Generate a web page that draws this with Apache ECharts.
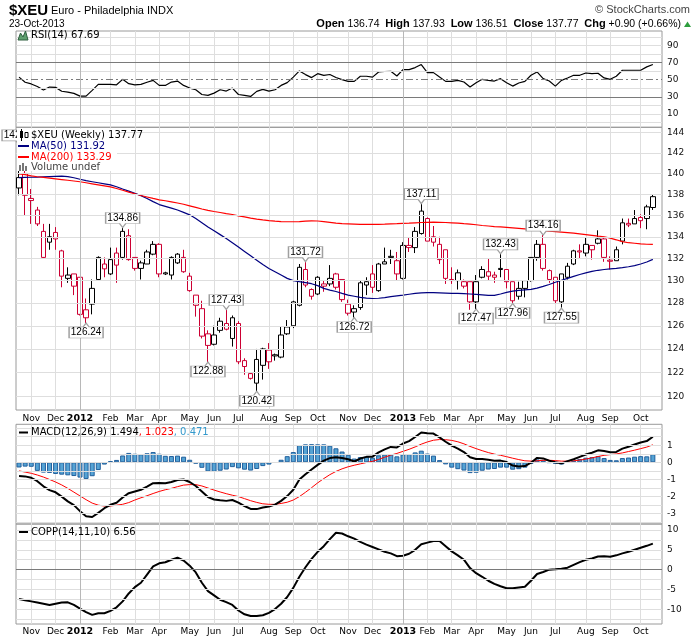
<!DOCTYPE html>
<html>
<head>
<meta charset="utf-8">
<title>$XEU Euro - Philadelphia INDX</title>
<script src="https://cdn.jsdelivr.net/npm/echarts@6/dist/echarts.min.js"></script>
<style>
  html, body { margin: 0; padding: 0; background: #fff; }
  #chart { width: 700px; height: 639px; }
</style>
</head>
<body>
<div id="chart"></div>
<script>
// weekly bars, Oct 24 2011 .. Oct 21 2013 (+1 empty slot at the right edge)
var weeks = [];
var start = Date.UTC(2011, 9, 24);
for (var k = 0; k < 106; k++) {
    weeks.push(new Date(start + k * 7 * 864e5).toISOString().slice(0, 10));
}
var months = ['Jan', 'Feb', 'Mar', 'Apr', 'May', 'Jun', 'Jul', 'Aug', 'Sep', 'Oct', 'Nov', 'Dec'];

// [open, close, low, high]
var candles = [
    [138.6, 139.6, 137.9, 142.8], [140.0, 137.9, 136.0, 140.6], [137.6, 137.4, 135.2, 138.5], [136.5, 135.2, 135.0, 136.8],
    [134.5, 132.1, 132.0, 135.2], [133.5, 134.0, 132.8, 135.2], [134.4, 133.8, 132.8, 134.9], [132.7, 130.4, 129.4, 132.8],
    [130.2, 130.5, 129.8, 131.2], [130.6, 129.5, 128.7, 130.6], [130.3, 127.0, 126.9, 130.3], [127.4, 126.7, 126.24, 128.4],
    [127.9, 129.3, 127.0, 130.1], [130.1, 132.1, 130.1, 132.2], [131.06, 131.5, 130.3, 132.1], [130.6, 131.9, 130.5, 133.0],
    [132.5, 131.4, 129.8, 133.0], [132.1, 134.5, 131.9, 134.86], [134.1, 131.9, 131.8, 134.7], [132.1, 131.1, 130.9, 132.1],
    [131.1, 131.6, 130.1, 131.8], [131.5, 132.6, 131.5, 132.8], [132.4, 133.3, 132.3, 133.6], [133.3, 130.6, 130.3, 133.4],
    [130.6, 130.7, 130.5, 130.8], [130.5, 132.1, 130.1, 132.2], [131.6, 132.4, 131.5, 132.5], [132.1, 130.8, 130.7, 132.8],
    [130.4, 129.1, 129.0, 130.7], [128.7, 127.8, 126.8, 128.7], [127.5, 125.1, 124.9, 128.2], [125.3, 124.3, 122.88, 125.6],
    [124.4, 125.2, 124.3, 126.0], [125.6, 126.4, 125.4, 126.7], [126.2, 125.7, 125.6, 127.43], [124.9, 126.7, 124.2, 126.9],
    [126.2, 122.9, 122.7, 126.4], [123.0, 122.5, 121.8, 123.2], [121.9, 121.5, 121.4, 122.0], [121.1, 123.1, 120.42, 124.0],
    [122.6, 124.0, 121.4, 124.1], [123.9, 122.9, 122.3, 124.5], [123.5, 123.4, 123.0, 123.6], [123.3, 125.2, 123.2, 125.9],
    [125.3, 125.9, 125.2, 126.5], [126.0, 128.1, 125.8, 128.2], [127.8, 131.2, 127.7, 131.5], [131.0, 129.6, 129.4, 131.72],
    [129.2, 128.6, 128.3, 129.3], [128.8, 130.3, 128.7, 130.4], [129.7, 129.5, 129.0, 130.0], [129.7, 130.2, 129.5, 131.4],
    [130.6, 129.4, 129.2, 130.7], [130.1, 128.3, 128.1, 130.1], [127.9, 127.1, 126.9, 128.3], [127.2, 127.5, 126.72, 127.8],
    [127.6, 129.8, 127.4, 130.0], [129.6, 129.9, 128.7, 130.3], [130.6, 129.4, 128.9, 131.4], [129.1, 131.5, 129.0, 131.6],
    [131.5, 131.7, 131.5, 133.0], [132.1, 132.2, 131.5, 132.8], [131.8, 130.6, 130.0, 132.6], [130.2, 133.2, 130.1, 133.5],
    [133.2, 133.0, 132.6, 133.9], [133.0, 134.5, 132.5, 134.9], [134.3, 136.4, 134.2, 137.11], [135.7, 133.6, 133.6, 135.8],
    [134.0, 133.5, 133.1, 135.0], [133.3, 131.9, 131.5, 134.0], [132.8, 130.2, 129.7, 132.8], [130.1, 130.0, 129.7, 131.2],
    [130.0, 130.7, 129.2, 131.0], [129.5, 129.9, 129.3, 130.1], [129.9, 128.1, 127.4, 129.9], [128.1, 129.9, 127.47, 130.5],
    [130.3, 131.0, 130.2, 131.3], [130.8, 130.4, 130.0, 132.0], [130.5, 130.3, 129.8, 130.8], [131.0, 131.1, 130.3, 132.43],
    [131.0, 129.9, 129.3, 131.0], [129.9, 128.2, 127.96, 129.9], [128.6, 129.3, 128.3, 129.9], [129.3, 130.0, 128.5, 130.0],
    [130.0, 132.1, 129.9, 132.1], [132.1, 133.3, 131.8, 133.7], [133.3, 131.1, 130.9, 134.16], [130.9, 130.1, 129.8, 131.0],
    [130.3, 128.2, 128.0, 130.3], [128.1, 130.6, 127.55, 130.6], [130.3, 131.3, 130.1, 131.6], [131.5, 132.7, 131.4, 132.8],
    [132.7, 132.6, 132.0, 133.3], [132.5, 133.3, 132.2, 133.9], [132.8, 133.2, 131.9, 133.2], [133.4, 133.8, 133.3, 134.6],
    [133.8, 132.1, 131.7, 134.0], [131.85, 131.75, 131.0, 132.2], [131.8, 132.8, 131.8, 133.1], [133.6, 135.3, 133.3, 135.7],
    [135.1, 135.25, 134.9, 135.7], [135.2, 135.7, 135.2, 136.5], [135.8, 135.5, 134.8, 136.1], [135.7, 136.8, 134.7, 137.0],
    [136.74, 137.77, 136.51, 137.93]
];

var ma50 = [
    139.6, 139.62, 139.63, 139.65, 139.68, 139.7, 139.72, 139.74, 139.7, 139.58,
    139.44, 139.3, 139.2, 139.1, 139.0, 138.9, 138.72, 138.5, 138.3, 138.08,
    137.87, 137.6, 137.3, 137.02, 136.85, 136.68, 136.5, 136.28, 136.05, 135.7,
    135.3, 134.9, 134.55, 134.2, 133.85, 133.45, 133.05, 132.65, 132.25, 131.85,
    131.45, 131.1, 130.8, 130.5, 130.2, 130.0, 129.9, 129.82, 129.72, 129.55,
    129.3, 129.15, 129.02, 128.85, 128.7, 128.6, 128.5, 128.43, 128.4, 128.42,
    128.48, 128.56, 128.63, 128.7, 128.78, 128.85, 128.9, 128.92, 128.92, 128.9,
    128.88, 128.86, 128.85, 128.83, 128.8, 128.77, 128.73, 128.68, 128.68, 128.8,
    128.95, 129.05, 129.12, 129.17, 129.22, 129.33, 129.48, 129.65, 129.85, 130.03,
    130.2, 130.38, 130.55, 130.7, 130.83, 130.93, 131.0, 131.06, 131.1, 131.17,
    131.25, 131.36, 131.5, 131.68, 131.92
];
var ma200 = [
    139.95, 139.88, 139.77, 139.68, 139.62, 139.55, 139.48, 139.41, 139.34, 139.27,
    139.2, 139.1, 139.0, 138.9, 138.8, 138.7, 138.55, 138.38, 138.2, 138.05,
    137.88, 137.74, 137.6, 137.47, 137.38, 137.28, 137.17, 137.05, 136.9, 136.75,
    136.6, 136.47, 136.36, 136.27, 136.17, 136.08, 135.95, 135.85, 135.74, 135.65,
    135.57, 135.5, 135.45, 135.42, 135.4, 135.4, 135.42, 135.45, 135.48, 135.47,
    135.42, 135.35, 135.27, 135.22, 135.2, 135.18, 135.16, 135.15, 135.15, 135.15,
    135.17, 135.2, 135.22, 135.25, 135.27, 135.3, 135.33, 135.35, 135.36, 135.35,
    135.33, 135.3, 135.27, 135.22, 135.18, 135.12, 135.05, 135.0, 134.95, 134.92,
    134.88, 134.83, 134.78, 134.73, 134.68, 134.62, 134.58, 134.53, 134.48, 134.43,
    134.38, 134.33, 134.27, 134.2, 134.13, 134.06, 134.0, 133.88, 133.72, 133.55,
    133.45, 133.4, 133.35, 133.31, 133.29
];

var rsi = [
    53, 47, 45, 42, 38, 41.4, 41, 36.5, 35.5, 34,
    30.8, 30.8, 37.5, 44.5, 44.5, 44.5, 44, 50.4, 45.3, 44,
    44.5, 47, 49.2, 43.3, 43.3, 47.2, 48.4, 43.3, 40.2, 38.2,
    32.7, 31.6, 34.3, 38.2, 36.7, 40.2, 32.7, 31.6, 30.4, 36.3,
    38.6, 36.7, 38.2, 43.3, 46.5, 53, 60.2, 55.9, 52.4, 57,
    55, 56, 52.5, 50, 48, 48, 54, 54, 53, 59,
    59.5, 59.8, 54.3, 61.8, 61.8, 64.1, 67.6, 58.2, 58.2, 53,
    48, 48, 49.2, 47.3, 41.4, 46.5, 50.4, 49.2, 48.4, 51.2,
    46.5, 42.5, 46.1, 48, 55.1, 59, 51.2, 48.4, 42.5, 49.2,
    52, 55.1, 55.1, 57.8, 57, 57.5, 52, 50.4, 54, 61,
    61, 61, 61, 64.9, 67.69
];

var macd = [
    -0.8, -0.82, -0.9, -1.1, -1.4, -1.62, -1.75, -2.0, -2.28, -2.5,
    -2.85, -3.15, -3.19, -2.95, -2.68, -2.48, -2.36, -2.05, -1.8, -1.7,
    -1.6, -1.42, -1.22, -1.2, -1.22, -1.15, -1.03, -1.0, -1.15, -1.38,
    -1.7, -2.03, -2.17, -2.22, -2.25, -2.2, -2.35, -2.55, -2.72, -2.73,
    -2.64, -2.58, -2.47, -2.25, -1.97, -1.6, -1.0, -0.7, -0.42, -0.15,
    0.1, 0.25, 0.29, 0.25, 0.18, 0.05, 0.22, 0.32, 0.33, 0.58,
    0.76, 0.9, 0.87, 1.1, 1.24, 1.48, 1.74, 1.7, 1.68, 1.46,
    1.2, 0.97, 0.8, 0.6, 0.3, 0.19, 0.19, 0.15, 0.09, 0.1,
    0.02, -0.19, -0.24, -0.22, -0.02, 0.26, 0.23, 0.09, 0.01, -0.06,
    0.07, 0.18, 0.32, 0.46, 0.56, 0.7, 0.66, 0.59, 0.61, 0.8,
    0.91, 1.04, 1.16, 1.24, 1.494
];
var signal = [
    -0.5, -0.57, -0.64, -0.74, -0.86, -1.0, -1.15, -1.32, -1.52, -1.74,
    -1.96, -2.18, -2.38, -2.5, -2.55, -2.55, -2.5, -2.45, -2.35, -2.2,
    -2.07, -1.95, -1.82, -1.7, -1.6, -1.52, -1.42, -1.33, -1.3, -1.3,
    -1.38, -1.5, -1.62, -1.73, -1.83, -1.92, -2.0, -2.12, -2.24, -2.34,
    -2.42, -2.45, -2.45, -2.4, -2.33, -2.2, -2.0, -1.75, -1.48, -1.2,
    -0.95, -0.72, -0.53, -0.38, -0.26, -0.17, -0.09, -0.01, 0.06, 0.17,
    0.3, 0.42, 0.52, 0.64, 0.76, 0.9, 1.06, 1.19, 1.29, 1.33,
    1.32, 1.28, 1.2, 1.08, 0.93, 0.8, 0.68, 0.57, 0.48, 0.41,
    0.33, 0.24, 0.16, 0.09, 0.07, 0.09, 0.12, 0.12, 0.1, 0.07,
    0.07, 0.09, 0.13, 0.19, 0.26, 0.34, 0.41, 0.45, 0.49, 0.55,
    0.63, 0.71, 0.8, 0.89, 1.023
];
var hist = [
    -0.3, -0.25, -0.26, -0.5, -0.6, -0.62, -0.68, -0.72, -0.76, -0.8,
    -0.89, -0.97, -0.81, -0.45, -0.13, 0.07, 0.14, 0.4, 0.55, 0.5,
    0.47, 0.53, 0.6, 0.5, 0.38, 0.37, 0.39, 0.33, 0.15, -0.08,
    -0.32, -0.53, -0.55, -0.49, -0.42, -0.28, -0.35, -0.43, -0.48, -0.39,
    -0.22, -0.13, -0.02, 0.15, 0.36, 0.6, 1.0, 1.05, 1.06, 1.05,
    1.05, 0.97, 0.82, 0.63, 0.44, 0.22, 0.31, 0.33, 0.27, 0.41,
    0.46, 0.48, 0.35, 0.46, 0.48, 0.58, 0.68, 0.51, 0.39, 0.13,
    -0.12, -0.31, -0.4, -0.48, -0.63, -0.61, -0.49, -0.42, -0.39, -0.31,
    -0.31, -0.43, -0.4, -0.31, -0.09, 0.17, 0.11, -0.03, -0.09, -0.13,
    0, 0.09, 0.19, 0.27, 0.3, 0.36, 0.25, 0.14, 0.12, 0.25,
    0.28, 0.33, 0.36, 0.35, 0.471
];

var copp = [
    -7.4, -7.7, -8.0, -8.3, -8.6, -8.9, -8.6, -8.3, -8.25, -8.9,
    -9.8, -10.7, -11.4, -11.0, -11.0, -10.4, -9.5, -8.0, -6.0, -4.4,
    -3.3, -1.25, 0.8, 1.6, 1.85, 2.5, 3.0, 2.3, 1.0, -0.7,
    -3.3, -5.4, -6.5, -7.6, -8.2, -8.9, -10.3, -11.25, -11.7, -11.7,
    -11.5, -10.9, -9.95, -8.6, -6.9, -4.6, -1.8, 0.6, 2.7, 4.5,
    5.9, 7.7, 9.3, 9.1, 8.4, 7.8, 7.0, 6.3, 5.7, 5.1,
    4.5, 4.1, 3.4, 3.5, 4.0, 5.0, 6.4, 6.8, 7.2, 7.2,
    5.9, 4.6, 3.6, 2.5, 0.4, -0.9, -1.8, -2.8, -3.6, -4.2,
    -4.7, -4.7, -4.5, -4.3, -2.8, -1.1, -0.6, 0, 0.1, 0.25,
    0.5, 1.2, 1.9, 2.5, 2.8, 3.3, 3.4, 3.25, 3.6, 4.1,
    4.5, 5.0, 5.5, 6.0, 6.56
];

// [week index, price, 'high' | 'low']
var priceNotes = [
    [0, 142.8, 'high'], [17, 134.86, 'high'], [34, 127.43, 'high'], [47, 131.72, 'high'],
    [66, 137.11, 'high'], [79, 132.43, 'high'], [86, 134.16, 'high'],
    [11, 126.24, 'low'], [31, 122.88, 'low'], [39, 120.42, 'low'], [55, 126.72, 'low'],
    [75, 127.47, 'low'], [81, 127.96, 'low'], [89, 127.55, 'low']
];

// axis ticks per panel
var rsiLines = [0, 10, 20, 30, 40, 50, 60, 70, 80, 90, 100];
var rsiTicks = [10, 30, 50, 70, 90];
var priceTicks = [120, 122, 124, 126, 128, 130, 132, 134, 136, 138, 140, 142, 144];
var macdLines = [-3.5, -3, -2.5, -2, -1.5, -1, -0.5, 0, 0.5, 1, 1.5, 2];
var macdTicks = [-3, -2, -1, 0, 1];
var coppLines = [-12.5, -10, -7.5, -5, -2.5, 0, 2.5, 5, 7.5, 10];
var coppTicks = [-10, -5, 0, 5, 10];
var yearStarts = ['2012-01-02', '2013-01-07'];

var RED = '#cc0033';
var FONT = 'DejaVu Sans';

function monthStart(idx) {
    var s = weeks[idx];
    return !!s && Number(s.slice(8, 10)) <= 7;
}

function monthLabel(val) {
    var m = Number(val.slice(5, 7));
    return m === 1 ? '{y|' + val.slice(0, 4) + '}' : months[m - 1];
}

function hLines(vals, labeled, dark, dash) {
    var out = vals.map(function (v) {
        var isDark = dark.indexOf(v) >= 0;
        var isDash = dash.indexOf(v) >= 0;
        return {
            yAxis: v,
            lineStyle: {
                color: isDark || isDash ? '#7a7a7a' : '#dedede',
                width: 1,
                type: isDash ? [7, 3, 2, 3] : 'solid'
            },
            label: {
                show: labeled.indexOf(v) >= 0,
                formatter: String(v),
                position: 'end',
                distance: 5,
                color: '#111',
                fontSize: 9,
                fontFamily: FONT
            }
        };
    });
    yearStarts.forEach(function (d) {
        out.push({ xAxis: d, lineStyle: { color: '#b8b8b8', width: 1, type: 'solid' }, label: { show: false } });
    });
    return out;
}

function gridSeries(gi, lines) {
    return {
        type: 'line', xAxisIndex: gi, yAxisIndex: gi, data: [], z: 0, silent: true,
        markLine: { silent: true, symbol: 'none', animation: false, data: lines }
    };
}

function makeX(gi, showLabel, margin) {
    return {
        type: 'category', gridIndex: gi, data: weeks, boundaryGap: true,
        axisLine: { show: false }, axisTick: { show: false },
        splitLine: { show: true, interval: monthStart, alignWithLabel: true, lineStyle: { color: '#dedede', width: 1 } },
        axisLabel: {
            show: showLabel, interval: monthStart, margin: margin, formatter: monthLabel,
            color: '#000', fontSize: 9, fontFamily: FONT,
            rich: { y: { fontWeight: 'bold', fontSize: 9.5, fontFamily: FONT, color: '#000' } }
        }
    };
}

function makeY(gi, type, min, max) {
    return { type: type, gridIndex: gi, min: min, max: max, show: false, splitLine: { show: false } };
}

// candle colours: hollow when close > open, red when close < previous close
var candleItems = candles.map(function (c, i) {
    var prev = i > 0 ? candles[i - 1][1] : c[0];
    var col = c[1] >= prev ? '#000' : RED;
    return {
        value: c,
        itemStyle: { color: '#fff', color0: col, borderColor: col, borderColor0: col, borderColorDoji: col }
    };
});

var boxUp = 'path://M0,0L34,0L34,11L20,11L17,15L14,11L0,11Z';
var boxDown = 'path://M0,4L14,4L17,0L20,4L34,4L34,15L0,15Z';
var noteItems = priceNotes.map(function (n) {
    var up = n[2] === 'high';
    return {
        coord: [n[0], n[1]],
        symbol: up ? boxUp : boxDown,
        symbolSize: [34, 15],
        symbolOffset: [0, up ? -7.5 : 7.5],
        label: { formatter: n[1].toFixed(2), offset: [0, up ? -2 : 2] }
    };
});

function txt(x, y, text, opt) {
    opt = opt || {};
    return {
        type: 'text', x: x, y: y, z: 60,
        style: {
            text: text,
            fill: opt.fill || '#000',
            font: opt.font || ('10px "' + FONT + '"'),
            textAlign: opt.align || 'left',
            textVerticalAlign: 'middle',
            rich: opt.rich
        }
    };
}

function dash(x1, x2, y, color) {
    return { type: 'line', z: 60, shape: { x1: x1, y1: y, x2: x2, y2: y }, style: { stroke: color, lineWidth: 2 } };
}

var HDR = '"Liberation Sans"';

var graphics = [
    txt(9, 11, '$XEU', { font: 'bold 15px ' + HDR }),
    txt(51, 11, 'Euro - Philadelphia INDX', { font: '11px ' + HDR }),
    txt(9, 24, '23-Oct-2013', { font: '10px ' + HDR }),
    txt(690, 10, '\u00a9 StockCharts.com', { font: '11px ' + HDR, fill: '#444', align: 'right' }),
    txt(681, 24, '{b|Open} 136.74  {b|High} 137.93  {b|Low} 136.51  {b|Close} 137.77  {b|Chg} +0.90 (+0.66%)', {
        font: '10.5px ' + HDR, align: 'right',
        rich: { b: { fontWeight: 'bold', fontSize: 11, fontFamily: 'Liberation Sans', fill: '#000' } }
    }),
    { type: 'polygon', z: 60, shape: { points: [[684, 27], [691, 27], [687.5, 21.5]] }, style: { fill: '#2e9e3e' } },

    // RSI legend
    { type: 'polygon', z: 60, shape: { points: [[18, 40], [20.5, 33], [23, 37], [25.5, 31], [28, 40]] },
        style: { fill: '#5f9f6f', stroke: '#2f5f3f', lineWidth: 1 } },
    txt(31, 35, 'RSI(14) 67.69'),

    // price legend on white
    { type: 'rect', z: 55, shape: { x: 17, y: 128.5, width: 100, height: 42.5 }, style: { fill: '#fff' } },
    { type: 'rect', z: 60, shape: { x: 20, y: 131, width: 3, height: 7 }, style: { fill: '#000' } },
    { type: 'line', z: 60, shape: { x1: 21.5, y1: 129, x2: 21.5, y2: 141 }, style: { stroke: '#000', lineWidth: 1 } },
    { type: 'rect', z: 60, shape: { x: 25, y: 132.5, width: 3, height: 5 }, style: { fill: '#fff', stroke: '#000', lineWidth: 1 } },
    txt(31, 135, '$XEU (Weekly) 137.77'),
    dash(18, 29, 146, '#000080'),
    txt(31, 146, 'MA(50) 131.92', { fill: '#000080' }),
    dash(18, 29, 157, '#ff0000'),
    txt(31, 157, 'MA(200) 133.29', { fill: '#ff0000' }),
    { type: 'rect', z: 60, shape: { x: 19, y: 165, width: 2, height: 6 }, style: { fill: '#777' } },
    { type: 'rect', z: 60, shape: { x: 22, y: 163, width: 2, height: 8 }, style: { fill: '#777' } },
    { type: 'rect', z: 60, shape: { x: 25, y: 166, width: 2, height: 5 }, style: { fill: '#777' } },
    txt(31, 167.5, 'Volume undef', { fill: '#444' }),

    // MACD legend
    dash(19, 28, 432.5, '#000'),
    txt(31, 432.5, 'MACD(12,26,9) 1.494{r|, 1.023}{b|, 0.471}', {
        rich: {
            r: { fill: '#ff0000', fontSize: 10, fontFamily: FONT },
            b: { fill: '#3399cc', fontSize: 10, fontFamily: FONT }
        }
    }),

    // COPP legend
    dash(19, 28, 532, '#000'),
    txt(31, 532, 'COPP(14,11,10) 6.56')
];

var chart = echarts.init(document.getElementById('chart'), null, { renderer: 'canvas' });

chart.setOption({
    animation: false,
    backgroundColor: '#fff',
    grid: [
        { left: 16, right: 38, top: 31, height: 96.3, show: true, borderColor: '#9a9a9a', borderWidth: 1 },
        { left: 16, right: 38, top: 127.3, height: 282.7, show: true, borderColor: '#9a9a9a', borderWidth: 1 },
        { left: 16, right: 38, top: 424.3, height: 99.7, show: true, borderColor: '#9a9a9a', borderWidth: 1 },
        { left: 16, right: 38, top: 524, height: 100, show: true, borderColor: '#9a9a9a', borderWidth: 1 }
    ],
    xAxis: [makeX(0, false, 0), makeX(1, true, 4), makeX(2, false, 0), makeX(3, true, 3)],
    yAxis: [
        makeY(0, 'value', -5.6, 106.8),
        makeY(1, 'log', 118.87, 144.54),
        makeY(2, 'value', -3.6, 2.22),
        makeY(3, 'value', -13.7, 11.5)
    ],
    graphic: graphics,
    series: [
        gridSeries(0, hLines(rsiLines, rsiTicks, [30, 70], [50])),
        {
            name: 'RSI', type: 'line', xAxisIndex: 0, yAxisIndex: 0, data: rsi, z: 3,
            symbol: 'none', lineStyle: { color: '#000', width: 1.2 }
        },

        gridSeries(1, hLines(priceTicks, priceTicks, [], [])),
        {
            name: '$XEU', type: 'candlestick', xAxisIndex: 1, yAxisIndex: 1, data: candleItems, z: 3,
            barWidth: 5
        },
        {
            name: 'MA(50)', type: 'line', xAxisIndex: 1, yAxisIndex: 1, data: ma50, z: 4,
            symbol: 'none', lineStyle: { color: '#000080', width: 1.2 }
        },
        {
            name: 'MA(200)', type: 'line', xAxisIndex: 1, yAxisIndex: 1, data: ma200, z: 4,
            symbol: 'none', lineStyle: { color: '#ff0000', width: 1.2 }
        },
        {
            name: 'notes', type: 'line', xAxisIndex: 1, yAxisIndex: 1, data: [], z: 8,
            markPoint: {
                animation: false,
                itemStyle: { color: '#fff', borderColor: '#a0a0a0', borderWidth: 1 },
                label: { show: true, position: 'inside', color: '#000', fontSize: 10, fontFamily: 'Liberation Sans' },
                data: noteItems
            }
        },

        gridSeries(2, hLines(macdLines, macdTicks, [], [])),
        {
            name: 'Histogram', type: 'bar', xAxisIndex: 2, yAxisIndex: 2, data: hist, z: 2,
            barWidth: 5,
            itemStyle: { color: '#55a3d4', borderColor: '#215f9c', borderWidth: 1 }
        },
        {
            name: 'Signal', type: 'line', xAxisIndex: 2, yAxisIndex: 2, data: signal, z: 3,
            symbol: 'none', lineStyle: { color: '#ff0000', width: 1 }
        },
        {
            name: 'MACD', type: 'line', xAxisIndex: 2, yAxisIndex: 2, data: macd, z: 4,
            symbol: 'none', lineStyle: { color: '#000', width: 2 }
        },

        gridSeries(3, hLines(coppLines, coppTicks, [0], [])),
        {
            name: 'COPP', type: 'line', xAxisIndex: 3, yAxisIndex: 3, data: copp, z: 3,
            symbol: 'none', lineStyle: { color: '#000', width: 2 }
        }
    ]
});
</script>
</body>
</html>
